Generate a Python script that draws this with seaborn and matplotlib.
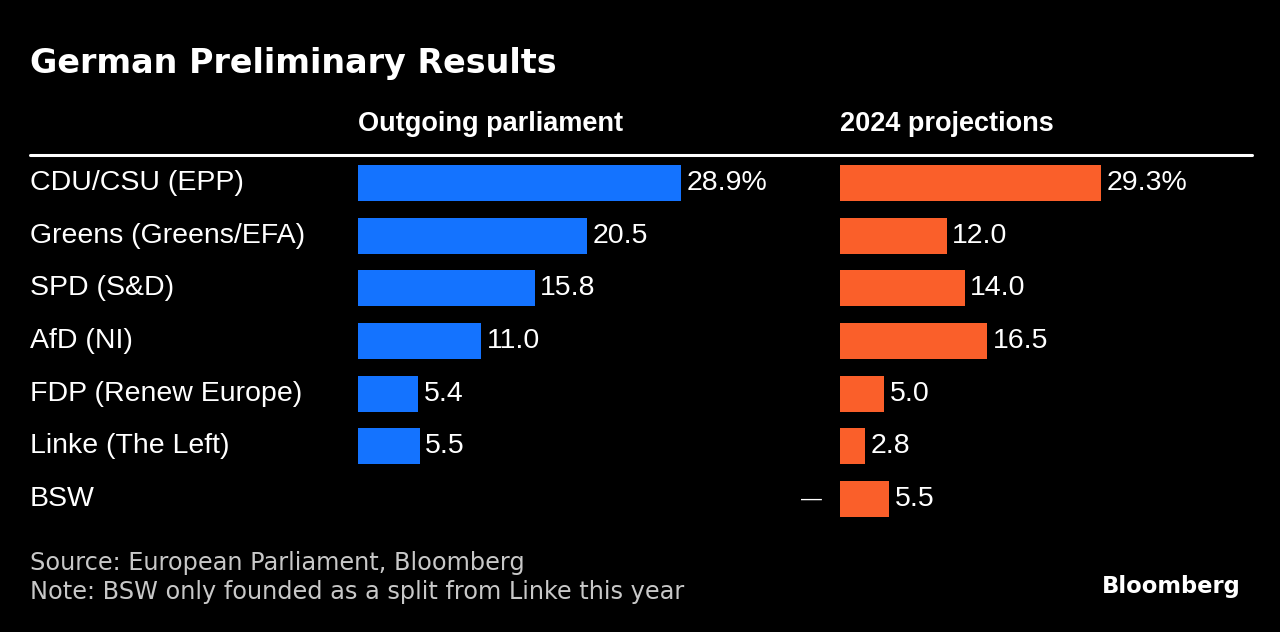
import matplotlib.pyplot as plt
import matplotlib.transforms as mtransforms
import pandas as pd
import seaborn as sns

parties = ["CDU/CSU (EPP)", "Greens (Greens/EFA)", "SPD (S&D)", "AfD (NI)",
           "FDP (Renew Europe)", "Linke (The Left)", "BSW"]
outgoing = [28.9, 20.5, 15.8, 11.0, 5.4, 5.5, None]
projections = [29.3, 12.0, 14.0, 16.5, 5.0, 2.8, 5.5]

blue = "#1473ff"
orange = "#fa5f2a"
bg = "black"

df = pd.DataFrame({"party": parties, "outgoing": outgoing, "projection": projections})

sns.set_style("dark")
plt.rcParams["font.family"] = ["Liberation Sans", "DejaVu Sans"]

W, H = 1280, 632
fig = plt.figure(figsize=(W / 100, H / 100), dpi=100, facecolor=bg)

def px(x, y):
    return x / W, 1 - y / H

bottom = 1 - 525.3 / H
height = (525.3 - 156.7) / H
ax1 = fig.add_axes([358 / W, bottom, 442 / W, height])
ax2 = fig.add_axes([840 / W, bottom, 412 / W, height])

panels = [(ax1, "outgoing", blue, 39.5), (ax2, "projection", orange, 46.3)]
for ax, col, color, xmax in panels:
    sns.barplot(data=df, x=col, y="party", order=parties, color=color,
                width=0.68, saturation=1, linewidth=0, ax=ax)
    ax.set_facecolor(bg)
    ax.set_xlim(0, xmax)
    ax.set_xlabel("")
    ax.set_ylabel("")
    ax.set_xticks([])
    ax.set_yticks([])
    ax.grid(False)
    for s in ax.spines.values():
        s.set_visible(False)
    for i, v in enumerate(df[col]):
        if pd.isna(v):
            continue
        label = f"{v:.1f}%" if i == 0 else f"{v:.1f}"
        ax.annotate(label, (v, i), xytext=(4, 0), textcoords="offset points",
                    va="center", ha="left", color="white", fontsize=20.5)

# dash for BSW (no outgoing seats)
ax2.annotate("\u2014", (0, 6), xytext=(-13, 0), textcoords="offset points",
             va="center", ha="right", color="white", fontsize=15)

# party labels
trans = mtransforms.blended_transform_factory(fig.transFigure, ax1.transData)
for i, p in enumerate(parties):
    ax1.text(30 / W, i, p, transform=trans, va="center", ha="left",
             color="white", fontsize=20.5)

fig.text(*px(30, 73), "German Preliminary Results", color="white",
         fontsize=24, fontweight="bold", family="DejaVu Sans", va="baseline")
fig.text(*px(358, 131), "Outgoing parliament", color="white",
         fontsize=19.5, fontweight="bold", va="baseline")
fig.text(*px(840, 131), "2024 projections", color="white",
         fontsize=19.5, fontweight="bold", va="baseline")

x0, y0 = px(30, 155)
x1, _ = px(1252, 155)
fig.add_artist(plt.Line2D([x0, x1], [y0, y0], color="white", lw=2.2,
                          transform=fig.transFigure))

fig.text(*px(30, 563), "Source: European Parliament, Bloomberg",
         color="#c8c8c8", fontsize=17.3, family="DejaVu Sans", va="center")
fig.text(*px(30, 592), "Note: BSW only founded as a split from Linke this year",
         color="#c8c8c8", fontsize=17.3, family="DejaVu Sans", va="center")
fig.text(*px(1241, 587), "Bloomberg", color="white", fontsize=16.3,
         fontweight="bold", family="DejaVu Sans", ha="right", va="center")

fig.savefig("out.png", dpi=100, facecolor=bg)
